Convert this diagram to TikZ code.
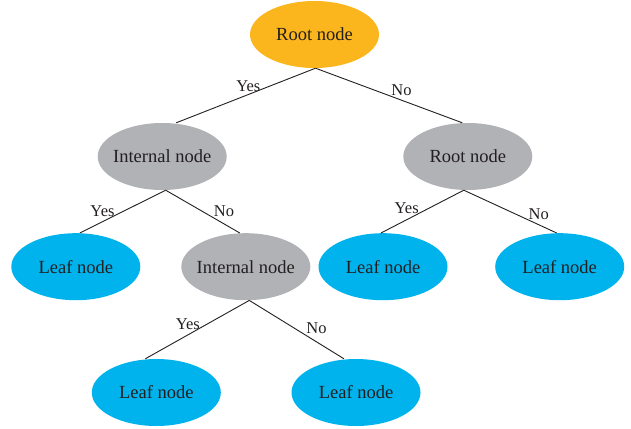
\documentclass[tikz,border=0pt]{standalone}
\usepackage{fontspec}
\setmainfont{Liberation Serif}
\usetikzlibrary{shapes.geometric}
\definecolor{rootcol}{RGB}{251,181,29}
\definecolor{intcol}{RGB}{177,178,182}
\definecolor{leafcol}{RGB}{0,179,236}
\definecolor{inkcol}{RGB}{35,31,32}
\newcommand\zwbox[1]{\makebox[0pt]{#1}}
\tikzset{
  blob/.style={shape=ellipse, draw=none, inner sep=0pt, minimum width=129pt,
    minimum height=67pt, text=inkcol, font=\fontsize{18.5}{20}\selectfont},
  rootnode/.style={blob, fill=rootcol},
  intnode/.style={blob, fill=intcol},
  leafnode/.style={blob, fill=leafcol},
  lbl/.style={inner sep=0pt, anchor=base, text=inkcol, font=\fontsize{16.5}{18}\selectfont},
  conn/.style={draw=inkcol, line width=0.9pt}
}
\begin{document}
\begin{tikzpicture}[x=1pt,y=-1pt]
\useasboundingbox (0,0) rectangle (631,428);
% nodes
\node[rootnode] (root)  at (314.5,34.5)  {\zwbox{Root node}};
\node[intnode]  (int1)  at (162.2,156.5) {\zwbox{Internal node}};
\node[intnode]  (root2) at (467.8,156.5) {\zwbox{Root node}};
\node[leafnode] (leaf1) at (75.8,266.7)  {\zwbox{Leaf node}};
\node[intnode]  (int2)  at (245.8,266.7) {\zwbox{Internal node}};
\node[leafnode] (leaf2) at (383,266.7)   {\zwbox{Leaf node}};
\node[leafnode] (leaf3) at (559.7,266.7) {\zwbox{Leaf node}};
\node[leafnode] (leaf4) at (156.3,392.5) {\zwbox{Leaf node}};
\node[leafnode] (leaf5) at (356,392.5)   {\zwbox{Leaf node}};
% connectors
\draw[conn] ([xshift=1pt]root.south)    -- ([xshift=14pt]int1.north);
\draw[conn] ([xshift=1pt]root.south)    -- ([xshift=-5.5pt]root2.north);
\draw[conn] ([xshift=3.5pt]int1.south)  -- ([xshift=4pt]leaf1.north);
\draw[conn] ([xshift=3.5pt]int1.south)  -- ([xshift=-6pt]int2.north);
\draw[conn] ([xshift=-4pt]root2.south)  -- ([xshift=-2pt]leaf2.north);
\draw[conn] ([xshift=-4pt]root2.south)  -- ([xshift=-3pt]leaf3.north);
\draw[conn] ([xshift=3.5pt]int2.south)  -- ([xshift=-11pt]leaf4.north);
\draw[conn] ([xshift=3.5pt]int2.south)  -- ([xshift=-12pt]leaf5.north);
% labels
\node[lbl] (y1) at (248.3,91.7)  {Yes};
\node[lbl] (n1) at (401.5,95)    {No};
\node[lbl] (y2) at (102.5,216.7) {Yes};
\node[lbl] (n2) at (224,216)     {No};
\node[lbl] (y3) at (406.7,213.3) {Yes};
\node[lbl] (n3) at (538.8,219.3) {No};
\node[lbl] (y4) at (187.8,329.3) {Yes};
\node[lbl] (n4) at (316.5,333.3) {No};
\end{tikzpicture}
\end{document}
